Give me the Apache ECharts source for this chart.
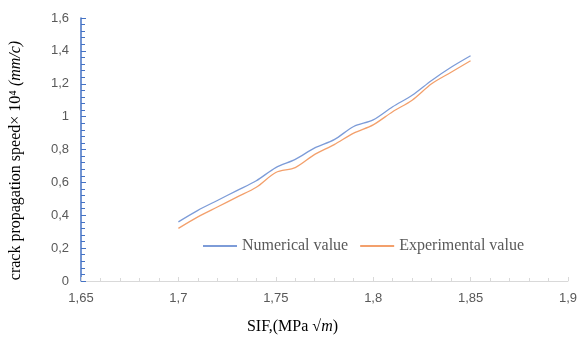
<!DOCTYPE html>
<html>
<head>
<meta charset="utf-8">
<script src="https://cdn.jsdelivr.net/npm/echarts@6/dist/echarts.min.js"></script>
<style>
  html, body { margin: 0; padding: 0; background: #fff; }
  #main { width: 580px; height: 340px; }
</style>
</head>
<body>
<div id="main"></div>
<script>
// x values (SIF)
var sif = [1.70, 1.71, 1.72, 1.73, 1.74, 1.75, 1.76, 1.77, 1.78, 1.79, 1.80, 1.81, 1.82, 1.83, 1.84, 1.85];
// crack propagation speed x 10^4
var numerical = [0.36, 0.43, 0.49, 0.55, 0.61, 0.69, 0.74, 0.81, 0.86, 0.94, 0.98, 1.06, 1.13, 1.22, 1.30, 1.37];
var experimental = [0.32, 0.39, 0.45, 0.51, 0.57, 0.66, 0.69, 0.77, 0.83, 0.90, 0.95, 1.03, 1.10, 1.20, 1.27, 1.34];
var seriesNames = ['Numerical value', 'Experimental value'];

function pairs(xs, ys) {
  return xs.map(function (x, i) { return [x, ys[i]]; });
}
function comma(v) {
  return String(Number(v.toFixed(2))).replace('.', ',');
}

var chart = echarts.init(document.getElementById('main'));
var option = {
  backgroundColor: '#ffffff',
  animation: false,
  grid: { left: 75, right: 10, top: 18, bottom: 58 },
  legend: {
    left: 198,
    top: 233,
    itemWidth: 34,
    itemHeight: 2,
    itemGap: 12,
    icon: 'rect',
    textStyle: { fontFamily: 'Liberation Serif', fontSize: 16, color: '#595959' },
    data: seriesNames
  },
  xAxis: {
    type: 'value',
    min: 1.65,
    max: 1.9,
    interval: 0.05,
    name: '{n|SIF,(MPa √}{i|m}{n|)}',
    nameLocation: 'middle',
    nameGap: 38,
    nameTextStyle: {
      padding: [0, 64, 0, 0],
      rich: {
        n: { fontFamily: 'Liberation Serif', fontSize: 16, color: '#000' },
        i: { fontFamily: 'Liberation Serif', fontSize: 16, fontStyle: 'italic', color: '#000' }
      }
    },
    axisLine: { lineStyle: { color: '#d9d9d9', width: 1 } },
    axisTick: { show: true, inside: true, length: 4, lineStyle: { color: '#d9d9d9' } },
    minorTick: { show: true, splitNumber: 5, length: 3, lineStyle: { color: '#d9d9d9' } },
    splitLine: { show: false },
    axisLabel: {
      margin: 11,
      fontFamily: 'Liberation Sans',
      fontSize: 13,
      color: '#595959',
      formatter: comma
    }
  },
  yAxis: {
    type: 'value',
    min: 0,
    max: 1.6,
    interval: 0.2,
    name: '{n|crack propagation speed× 10⁴ }{i|(mm/c)}',
    nameLocation: 'middle',
    nameGap: 57,
    nameRotate: 90,
    nameTextStyle: {
      padding: [0, 22, 0, 0],
      rich: {
        n: { fontFamily: 'Liberation Serif', fontSize: 16, color: '#000' },
        i: { fontFamily: 'Liberation Serif', fontSize: 16, fontStyle: 'italic', color: '#000' }
      }
    },
    axisLine: { show: true, lineStyle: { color: '#4472c4', width: 1.5 } },
    axisTick: { show: true, inside: true, length: 5, lineStyle: { color: '#4472c4' } },
    minorTick: { show: true, splitNumber: 5, length: 4, lineStyle: { color: '#4472c4' } },
    splitLine: { show: false },
    axisLabel: {
      margin: 12,
      fontFamily: 'Liberation Sans',
      fontSize: 13,
      color: '#595959',
      formatter: comma
    }
  },
  series: [
    {
      name: seriesNames[0],
      type: 'line',
      smooth: 0.3,
      symbol: 'none',
      data: pairs(sif, numerical),
      lineStyle: { color: '#7d9cd8', width: 1.3 },
      itemStyle: { color: '#7d9cd8' }
    },
    {
      name: seriesNames[1],
      type: 'line',
      smooth: 0.3,
      symbol: 'none',
      data: pairs(sif, experimental),
      lineStyle: { color: '#f3a06c', width: 1.3 },
      itemStyle: { color: '#f3a06c' }
    }
  ]
};
chart.setOption(option);
</script>
</body>
</html>
